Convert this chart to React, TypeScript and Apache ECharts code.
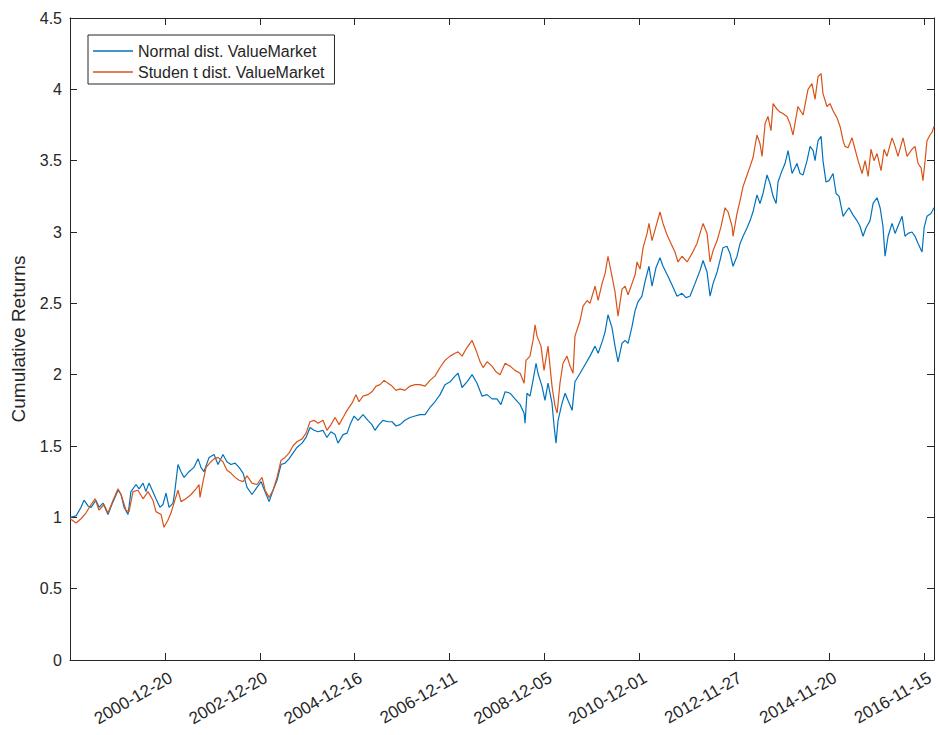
import React, { useEffect, useRef } from "react";
import * as echarts from "echarts";

const tickIdx = [500, 1000, 1500, 2000, 2500, 3000, 3500, 4000, 4500];
const tickDates = [
  "2000-12-20", "2002-12-20", "2004-12-16", "2006-12-11", "2008-12-05",
  "2010-12-01", "2012-11-27", "2014-11-20", "2016-11-15",
];
const lastIdx = 4553;
const seriesNames = ["Normal dist. ValueMarket", "Studen t dist. ValueMarket"];

const normalPoints: [number, number][] = [
  [1,1.00],[32,1.01],[58,1.07],[74,1.12],[95,1.08],[111,1.07],[137,1.12],[153,1.07],[174,1.10],[200,1.02],
  [227,1.11],[253,1.19],[269,1.16],[285,1.07],[306,1.02],[321,1.18],[348,1.23],[364,1.20],[385,1.24],[400,1.18],
  [416,1.24],[437,1.18],[453,1.13],[474,1.07],[490,1.09],[506,1.17],[522,1.07],[543,1.10],[553,1.19],[569,1.37],
  [585,1.32],[601,1.28],[627,1.32],[653,1.35],[675,1.41],[690,1.35],[706,1.32],[733,1.42],[759,1.44],
  [780,1.37],[806,1.44],[827,1.39],[848,1.37],[870,1.38],[891,1.35],[912,1.31],[933,1.21],[959,1.16],[985,1.21],
  [1007,1.25],[1028,1.18],[1049,1.11],[1070,1.19],[1091,1.26],[1112,1.37],[1133,1.38],[1154,1.41],[1175,1.45],[1196,1.49],
  [1223,1.52],[1244,1.56],[1265,1.63],[1286,1.61],[1307,1.60],[1333,1.61],[1354,1.56],[1375,1.60],[1397,1.58],[1412,1.52],
  [1439,1.58],[1460,1.59],[1476,1.65],[1497,1.71],[1518,1.68],
  [1544,1.72],[1570,1.68],[1591,1.65],[1607,1.61],[1628,1.65],[1649,1.68],[1676,1.67],[1697,1.67],[1718,1.64],[1739,1.65],
  [1765,1.68],[1792,1.70],[1818,1.71],[1844,1.72],[1871,1.72],[1897,1.77],[1923,1.81],[1950,1.86],[1976,1.93],[2003,1.95],
  [2029,1.99],[2045,2.01],[2066,1.91],[2092,1.95],[2119,2.00],[2145,1.94],[2171,1.85],[2198,1.86],[2224,1.83],[2250,1.83],
  [2271,1.79],
  [2293,1.88],[2319,1.87],[2345,1.83],[2372,1.79],[2393,1.73],[2398,1.66],[2408,1.87],[2424,1.85],[2440,1.96],[2456,2.08],
  [2466,2.01],[2487,1.92],[2503,1.82],[2519,1.94],[2540,1.80],[2551,1.64],[2561,1.52],[2572,1.68],[2593,1.80],[2609,1.87],
  [2624,1.82],[2646,1.75],[2661,1.95],[2688,2.01],[2714,2.07],[2740,2.13],[2767,2.20],[2783,2.15],[2804,2.23],[2820,2.30],
  [2835,2.42],[2856,2.33],[2872,2.20],[2888,2.09],[2909,2.22],[2925,2.24],[2941,2.22],[2962,2.34],[2978,2.45],[2993,2.51],
  [3014,2.55],[3030,2.65],
  [3051,2.76],[3067,2.62],[3088,2.75],[3109,2.82],[3125,2.76],[3151,2.69],[3172,2.63],[3199,2.55],[3225,2.57],[3246,2.54],
  [3267,2.55],[3294,2.64],[3320,2.73],[3336,2.80],[3357,2.72],[3373,2.55],[3389,2.64],[3410,2.72],[3425,2.80],[3441,2.89],
  [3462,2.90],[3478,2.85],[3494,2.76],[3515,2.83],[3531,2.92],[3547,2.97],[3568,3.03],[3584,3.08],[3599,3.14],[3620,3.26],
  [3636,3.20],[3652,3.27],[3673,3.40],[3689,3.34],[3705,3.25],[3721,3.20],[3731,3.35],[3752,3.43],[3768,3.48],[3784,3.57],
  [3805,3.41],
  [3831,3.48],[3847,3.41],[3863,3.40],[3884,3.50],[3900,3.60],[3916,3.57],[3926,3.50],[3942,3.64],[3958,3.67],[3968,3.50],
  [3984,3.35],[4000,3.36],[4021,3.41],[4037,3.27],[4053,3.25],[4074,3.11],[4089,3.14],[4105,3.17],[4126,3.12],[4147,3.08],
  [4163,3.04],[4179,2.97],[4195,3.03],[4216,3.08],[4232,3.20],[4253,3.24],[4269,3.17],[4284,3.04],[4295,2.83],[4311,2.97],
  [4332,3.06],[4348,2.99],[4363,3.04],[4385,3.11],[4400,2.97],[4416,2.99],[4437,3.00],[4453,2.97],[4469,2.92],[4490,2.86],
  [4501,3.03],[4516,3.11],[4537,3.13],[4553,3.17],
];

const studentPoints: [number, number][] = [
  [1,0.99],[32,0.96],[58,0.99],[84,1.03],[111,1.09],[132,1.13],[153,1.05],[179,1.09],[200,1.03],[227,1.12],
  [253,1.20],[269,1.16],[295,1.05],[311,1.04],[332,1.18],[358,1.19],[385,1.13],[411,1.18],[437,1.12],[453,1.04],
  [480,1.02],[495,0.93],[516,0.98],[532,1.03],[548,1.10],[569,1.19],[585,1.11],[611,1.13],[638,1.16],[664,1.20],
  [680,1.23],[685,1.14],[701,1.25],[717,1.35],[743,1.39],[759,1.41],
  [780,1.42],[806,1.39],[827,1.33],[848,1.31],[870,1.28],[891,1.26],[912,1.25],[933,1.29],[959,1.24],[985,1.23],
  [1012,1.28],[1028,1.19],[1049,1.14],[1070,1.19],[1091,1.28],[1112,1.40],[1133,1.42],[1154,1.45],[1175,1.50],[1196,1.53],
  [1223,1.55],[1244,1.59],[1265,1.67],[1286,1.68],[1307,1.66],[1333,1.68],[1354,1.61],[1375,1.65],[1397,1.70],[1418,1.65],
  [1439,1.70],[1460,1.75],[1486,1.80],[1507,1.86],[1523,1.81],
  [1544,1.85],[1570,1.86],[1591,1.88],[1613,1.92],[1634,1.93],[1655,1.96],[1676,1.94],[1697,1.92],[1718,1.89],[1739,1.90],
  [1765,1.89],[1792,1.92],[1818,1.93],[1844,1.93],[1871,1.92],[1897,1.96],[1923,1.99],[1950,2.05],[1976,2.10],[2003,2.13],
  [2029,2.15],[2045,2.16],[2066,2.13],[2092,2.19],[2119,2.24],[2140,2.17],[2161,2.09],[2177,2.05],[2198,2.09],[2224,2.06],
  [2245,2.02],[2266,2.00],
  [2293,2.08],[2319,2.06],[2345,2.03],[2372,2.01],[2393,1.94],[2403,2.10],[2424,2.13],[2440,2.24],[2451,2.35],[2461,2.27],
  [2482,2.20],[2498,2.03],[2519,2.20],[2540,1.92],[2556,1.78],[2567,1.73],[2582,1.94],[2598,2.08],[2619,2.13],[2635,2.06],
  [2651,2.01],[2661,2.27],[2688,2.38],[2704,2.48],[2725,2.52],[2740,2.50],[2767,2.62],[2783,2.52],[2804,2.64],[2820,2.71],
  [2835,2.83],[2856,2.69],[2872,2.58],[2888,2.41],[2909,2.60],[2925,2.62],[2941,2.56],[2962,2.64],[2978,2.70],[2988,2.79],
  [3004,2.74],[3020,2.89],[3041,2.99],
  [3051,3.06],[3067,2.94],[3088,3.04],[3109,3.14],[3125,3.06],[3146,2.98],[3167,2.92],[3188,2.86],[3204,2.79],[3225,2.83],
  [3252,2.79],[3278,2.85],[3304,2.92],[3320,2.99],[3336,3.06],[3357,2.99],[3373,2.79],[3389,2.87],[3410,2.94],[3431,3.04],
  [3452,3.17],[3468,3.14],[3489,3.04],[3494,2.97],[3515,3.13],[3531,3.22],[3547,3.32],[3568,3.40],[3584,3.46],[3599,3.52],
  [3620,3.68],[3636,3.62],[3647,3.53],[3663,3.76],[3678,3.81],[3694,3.71],[3705,3.90],[3726,3.86],[3742,3.84],[3757,3.83],
  [3778,3.81],[3794,3.76],
  [3810,3.68],[3836,3.88],[3863,3.82],[3889,4.00],[3910,4.04],[3926,3.93],[3942,4.09],[3958,4.11],[3968,3.97],[3989,3.88],
  [4005,3.90],[4021,3.85],[4042,3.80],[4058,3.74],[4074,3.64],[4084,3.60],[4100,3.59],[4121,3.66],[4137,3.58],[4153,3.50],
  [4174,3.41],[4190,3.50],[4206,3.39],[4221,3.58],[4237,3.50],[4253,3.55],[4274,3.43],[4290,3.58],[4305,3.53],[4332,3.66],
  [4348,3.60],[4363,3.53],[4390,3.66],[4411,3.53],[4437,3.58],[4453,3.60],[4469,3.48],[4485,3.45],[4495,3.36],[4506,3.50],
  [4516,3.64],[4532,3.68],[4543,3.70],[4553,3.74],
];

const FONT = "'Liberation Sans', Arial, Helvetica, sans-serif";
const AXIS_COLOR = "#262626";
const TEXT_COLOR = "#262626";

export default function App() {
  const ref = useRef<HTMLDivElement>(null);

  useEffect(() => {
    if (!ref.current) return;
    const chart = echarts.init(ref.current, undefined, { renderer: "svg" });
    const labelFor = (v: number) => {
      const k = tickIdx.indexOf(Math.round(v));
      return k >= 0 ? tickDates[k] : "";
    };
    const mkLine = () => ({ show: true, onZero: false, lineStyle: { color: AXIS_COLOR, width: 1 } });
    const mkTick = () => ({ show: true, inside: true, length: 7, lineStyle: { color: AXIS_COLOR, width: 1 } });
    chart.setOption({
      animation: false,
      backgroundColor: "#ffffff",
      textStyle: { fontFamily: FONT },
      grid: { left: 70, right: 4, top: 18, bottom: 75, containLabel: false },
      legend: {
        show: true,
        left: 88,
        top: 35,
        orient: "vertical",
        data: seriesNames,
        icon: "rect",
        itemWidth: 40,
        itemHeight: 1.5,
        itemGap: 5,
        padding: [8, 10, 4, 5],
        borderColor: AXIS_COLOR,
        borderWidth: 1,
        backgroundColor: "#ffffff",
        textStyle: { fontSize: 16, color: TEXT_COLOR, fontFamily: FONT },
      },
      xAxis: [
        {
          type: "value",
          min: 0,
          max: lastIdx,
          interval: 500,
          position: "bottom",
          axisLine: mkLine(),
          axisTick: mkTick(),
          splitLine: { show: false },
          axisLabel: {
            show: true,
            rotate: 30,
            margin: 20,
            fontSize: 17,
            color: TEXT_COLOR,
            fontFamily: FONT,
            align: "right",
            verticalAlign: "middle",
            padding: [0, -7, 0, 0],
            showMinLabel: false,
            showMaxLabel: false,
            formatter: (v: number) => labelFor(v),
          },
        },
        {
          type: "value",
          min: 0,
          max: lastIdx,
          interval: 500,
          position: "top",
          axisLine: mkLine(),
          axisTick: mkTick(),
          splitLine: { show: false },
          axisLabel: { show: false },
        },
      ],
      yAxis: [
        {
          type: "value",
          min: 0,
          max: 4.5,
          interval: 0.5,
          position: "left",
          axisLine: mkLine(),
          axisTick: mkTick(),
          splitLine: { show: false },
          axisLabel: { fontSize: 16, color: TEXT_COLOR, margin: 8, fontFamily: FONT },
          name: "Cumulative Returns",
          nameLocation: "middle",
          nameGap: 42,
          nameTextStyle: { fontSize: 19, color: TEXT_COLOR, fontFamily: FONT },
        },
        {
          type: "value",
          min: 0,
          max: 4.5,
          interval: 0.5,
          position: "right",
          axisLine: mkLine(),
          axisTick: mkTick(),
          splitLine: { show: false },
          axisLabel: { show: false },
        },
      ],
      series: [
        {
          name: seriesNames[0],
          type: "line",
          data: normalPoints,
          symbol: "none",
          showSymbol: false,
          color: "#0072BD",
          lineStyle: { width: 1.2, color: "#0072BD" },
        },
        {
          name: seriesNames[1],
          type: "line",
          data: studentPoints,
          symbol: "none",
          showSymbol: false,
          color: "#D95319",
          lineStyle: { width: 1.2, color: "#D95319" },
        },
      ],
    });
    return () => chart.dispose();
  }, []);

  return (
    <div
      ref={ref}
      style={{ position: "fixed", left: 0, top: 0, width: 938, height: 735, background: "#fff" }}
    />
  );
}
